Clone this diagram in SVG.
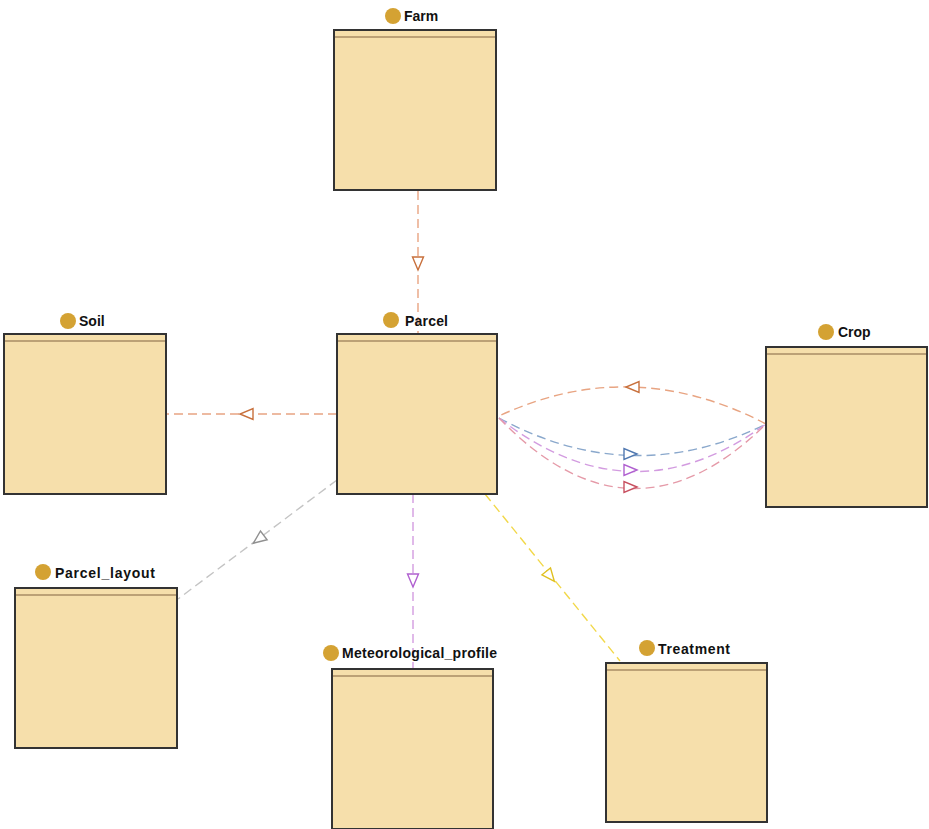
<svg xmlns="http://www.w3.org/2000/svg" xmlns:xlink="http://www.w3.org/1999/xlink" width="929" height="829" viewBox="0 0 929 829">
<style>
.box{fill:#f6dfab;stroke:#333;stroke-width:2}
.hdr{stroke:#a88c64;stroke-width:1.5}
.dot{fill:#d4a233}
.lbl{font-family:"Liberation Sans",Arial,sans-serif;font-size:14px;font-weight:bold;fill:#111}
.c{fill:none;stroke-width:1.4;stroke-dasharray:9 5}
.ah{fill:#fff;stroke-width:1.4}
.or{stroke:#e8a482}
.oa{stroke:#c8703c}
.gr{stroke:#c4c4c4}
.ga{stroke:#909090}
.vi{stroke:#d39ce0}
.va{stroke:#b060d0}
.ye{stroke:#f2d84a}
.ya{stroke:#e0c020}
.bl{stroke:#8aa8cc}
.ba{stroke:#5078b0}
.pk{stroke:#e59aa8}
.pa{stroke:#c85060}
</style>
<defs>
<path id="tri" d="M7,0 L-6,-5.5 L-6,5.5 Z"/>
</defs>
<rect width="929" height="829" fill="#fff"/>
<g id="connectors">
<line class="c or" x1="418" y1="191" x2="418" y2="334"/>
<use xlink:href="#tri" class="ah oa" transform="translate(418,263) rotate(90)"/>
<line class="c or" x1="337" y1="414" x2="166" y2="414"/>
<use xlink:href="#tri" class="ah oa" transform="translate(247,414) rotate(180)"/>
<line class="c gr" x1="337" y1="480" x2="178" y2="599"/>
<use xlink:href="#tri" class="ah ga" transform="translate(259,539) rotate(143)"/>
<line class="c vi" x1="413" y1="494" x2="413" y2="669"/>
<use xlink:href="#tri" class="ah va" transform="translate(413,580) rotate(90)"/>
<line class="c ye" x1="485" y1="494" x2="620" y2="661"/>
<use xlink:href="#tri" class="ah ya" transform="translate(550,576) rotate(51)"/>
<path class="c or" d="M766,424 Q632,354 499,416"/>
<use xlink:href="#tri" class="ah oa" transform="translate(633,387) rotate(180)"/>
<path class="c bl" d="M499,418 Q632,490 766,424"/>
<use xlink:href="#tri" class="ah ba" transform="translate(630,454)"/>
<path class="c vi" d="M499,418 Q632,522 766,424"/>
<use xlink:href="#tri" class="ah va" transform="translate(630,470)"/>
<path class="c pk" d="M499,418 Q632,556 766,424"/>
<use xlink:href="#tri" class="ah pa" transform="translate(630,487)"/>
</g>
<g id="Farm">
<rect class="box" x="334" y="30" width="162" height="160"/>
<line class="hdr" x1="335" y1="37" x2="495" y2="37"/>
<circle class="dot" cx="393" cy="16" r="8"/>
<text class="lbl" x="404" y="21">Farm</text>
</g>
<g id="Parcel">
<rect class="box" x="337" y="334" width="160" height="160"/>
<line class="hdr" x1="338" y1="341" x2="496" y2="341"/>
<circle class="dot" cx="391" cy="320" r="8"/>
<text class="lbl" x="405" y="326" textLength="43">Parcel</text>
</g>
<g id="Soil">
<rect class="box" x="4" y="334" width="162" height="160"/>
<line class="hdr" x1="5" y1="341" x2="165" y2="341"/>
<circle class="dot" cx="68" cy="321" r="8"/>
<text class="lbl" x="79" y="326">Soil</text>
</g>
<g id="Crop">
<rect class="box" x="766" y="347" width="161" height="160"/>
<line class="hdr" x1="767" y1="354" x2="926" y2="354"/>
<circle class="dot" cx="826" cy="332" r="8"/>
<text class="lbl" x="838" y="337">Crop</text>
</g>
<g id="Parcel_layout">
<rect class="box" x="15" y="588" width="162" height="160"/>
<line class="hdr" x1="16" y1="595" x2="176" y2="595"/>
<circle class="dot" cx="43" cy="572" r="8"/>
<text class="lbl" x="55" y="578" textLength="100">Parcel_layout</text>
</g>
<g id="Meteorological_profile">
<rect class="box" x="332" y="669" width="161" height="160"/>
<line class="hdr" x1="333" y1="676" x2="492" y2="676"/>
<circle class="dot" cx="331" cy="653" r="8"/>
<text class="lbl" x="342" y="658" textLength="155">Meteorological_profile</text>
</g>
<g id="Treatment">
<rect class="box" x="606" y="663" width="161" height="159"/>
<line class="hdr" x1="607" y1="670" x2="766" y2="670"/>
<circle class="dot" cx="647" cy="648" r="8"/>
<text class="lbl" x="658" y="654" textLength="72">Treatment</text>
</g>
</svg>
